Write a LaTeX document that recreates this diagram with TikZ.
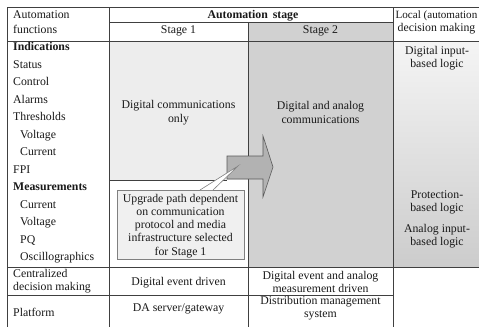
\documentclass[tikz,border=0pt]{standalone}
\usepackage{fontspec}
\setmainfont{Liberation Serif}
\begin{document}
\begin{tikzpicture}[x=1pt,y=-1pt,
  txt/.style={inner sep=0pt, anchor=base, font=\fontsize{11.8}{14}\selectfont, text=black!90},
  lt/.style={txt, anchor=base west},
  bt/.style={lt, font=\fontsize{11.8}{14}\selectfont\bfseries},
  grid/.style={draw=black!75, line width=0.7pt},
  arrowfill/.style={fill=black!30, draw=black!65, line width=0.6pt},
  callout/.style={fill=black!6, draw=black!50, line width=0.6pt}]
\useasboundingbox (0,0) rectangle (479,327);
\fill[white] (0,0) rectangle (479,327);
% fills
\fill[black!7] (109,41) rectangle (248,180);
\fill[black!18] (248,22) rectangle (393,267);
\shade[top color=black!4, bottom color=black!20] (393,41) rectangle (479,267);
% grid lines
\draw[grid] (7,7) -- (479,7);
\draw[grid] (109,22) -- (393,22);
\draw[grid] (7,41) -- (479,41);
\draw[grid] (109,180) -- (227,180);
\draw[grid] (7,267) -- (479,267);
\draw[grid] (7,295) -- (393,295);
\draw[grid] (7,7) -- (7,327);
\draw[grid] (109,7) -- (109,327);
\draw[grid] (248,22) -- (248,327);
\draw[grid] (393,7) -- (393,327);
% arrow
\draw[arrowfill] (227,156) -- (263,156) -- (263,136) -- (273,167) -- (263,197) -- (263,179) -- (227,179) -- cycle;
% callout
\draw[callout] (117,190) rectangle (244,259);
\coordinate (cpa) at (200,190);
\coordinate (cpb) at (213,190);
\coordinate (cpt) at (238,166);
\fill[white] (cpa) -- (cpt) -- (cpb) -- cycle;
\draw[draw=black!50, line width=0.6pt] (cpa) -- (cpt) -- (cpb);
% header texts
\node[lt] (h1) at (13,18) {Automation};
\node[lt] (h2) at (13,33) {functions};
\node[txt, font=\fontsize{11.8}{14}\selectfont\bfseries] (hs) at (253,18) {Automation\, stage};
\node[txt] (s1) at (178.5,33) {Stage 1};
\node[txt] (s2) at (320.5,33) {Stage 2};
\node[txt, anchor=base east, font=\fontsize{11.1}{14}\selectfont] (l1) at (477.5,18) {Local (automation};
\node[txt] (l2) at (436.5,31) {decision making};
% left column
\node[bt] (f1) at (13,50.5) {Indications};
\node[lt] (f2) at (13,68) {Status};
\node[lt] (f3) at (13,85.5) {Control};
\node[lt] (f4) at (13,103) {Alarms};
\node[lt] (f5) at (13,120.5) {Thresholds};
\node[lt] (f6) at (20,138) {Voltage};
\node[lt] (f7) at (20,155.5) {Current};
\node[lt] (f8) at (13,173) {FPI};
\node[bt] (f9) at (13,190.5) {Measurements};
\node[lt] (f10) at (20,208) {Current};
\node[lt] (f11) at (20,225.5) {Voltage};
\node[lt] (f12) at (20,243) {PQ};
\node[lt] (f13) at (20,260.5) {Oscillographics};
% stage bodies
\node[txt] (d1) at (178.5,108) {Digital communications};
\node[txt] (d2) at (178.5,122) {only};
\node[txt] (e1) at (320.5,109) {Digital and analog};
\node[txt] (e2) at (320.5,123) {communications};
% callout text
\node[txt] (c1) at (180.5,202) {Upgrade path dependent};
\node[txt] (c2) at (180.5,215.3) {on communication};
\node[txt] (c3) at (180.5,228.6) {protocol and media};
\node[txt] (c4) at (180.5,241.9) {infrastructure selected};
\node[txt] (c5) at (180.5,255.2) {for Stage 1};
% local body
\node[txt] (g1) at (437,54) {Digital input-};
\node[txt] (g2) at (437,67.5) {based logic};
\node[txt] (g3) at (437,198) {Protection-};
\node[txt] (g4) at (437,211.5) {based logic};
\node[txt] (g5) at (437,232) {Analog input-};
\node[txt] (g6) at (437,245.5) {based logic};
% bottom rows
\node[lt] (r1) at (13,277) {Centralized};
\node[lt] (r2) at (13,290) {decision making};
\node[txt] (r3) at (178.5,285) {Digital event driven};
\node[txt] (r4) at (320.5,279) {Digital event and analog};
\node[txt] (r5) at (320.5,292) {measurement driven};
\node[lt] (p1) at (13,316) {Platform};
\node[txt] (p2) at (178.5,311) {DA server/gateway};
\node[txt] (p3) at (320.5,304.5) {Distribution management};
\node[txt] (p4) at (320.5,317.5) {system};
\end{tikzpicture}
\end{document}
